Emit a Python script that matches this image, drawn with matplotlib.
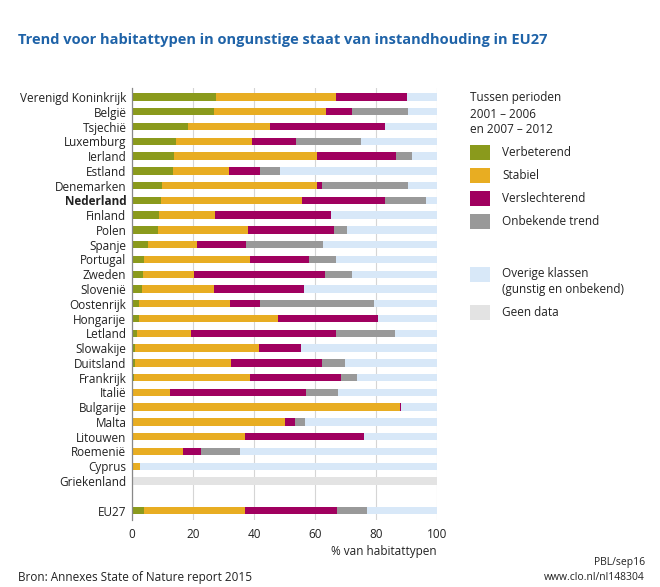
import matplotlib
matplotlib.use("Agg")
import matplotlib.pyplot as plt
from matplotlib.patches import Rectangle
import numpy as np

plt.rcParams['font.family'] = ['Open Sans', 'DejaVu Sans']

countries = ["Verenigd Koninkrijk", "België", "Tsjechië", "Luxemburg", "Ierland", "Estland",
             "Denemarken", "Nederland", "Finland", "Polen", "Spanje", "Portugal", "Zweden",
             "Slovenië", "Oostenrijk", "Hongarije", "Letland", "Slowakije", "Duitsland",
             "Frankrijk", "Italië", "Bulgarije", "Malta", "Litouwen", "Roemenië", "Cyprus",
             "Griekenland", "EU27"]

# Percentages per trend class
verbeterend = [27.6, 26.9, 18.3, 14.3, 13.9, 13.3, 9.8, 9.6, 8.7, 8.6, 5.4, 3.8, 3.7,
               3.4, 2.4, 2.2, 1.7, 1.0, 1.0, 0.7, 0.0, 0.0, 0.0, 0.0, 0.0, 0.0, 0.0, 3.9]
stabiel = [39.1, 36.7, 26.9, 25.0, 46.6, 18.4, 50.7, 46.2, 18.5, 29.4, 16.0, 34.7, 16.6,
           23.6, 29.8, 45.7, 17.7, 40.6, 31.3, 38.1, 12.3, 87.7, 50.1, 37.1, 16.7, 2.5, 0.0, 33.2]
verslechterend = [23.2, 8.6, 37.8, 14.4, 26.0, 10.1, 1.7, 27.1, 38.0, 28.3, 15.9, 19.3, 42.9,
                  29.2, 9.7, 32.6, 47.4, 13.9, 29.8, 29.6, 44.6, 0.4, 3.3, 38.9, 6.0, 0.0, 0.0, 30.1]
onbekend = [0.0, 18.3, 0.0, 21.3, 5.1, 6.6, 28.1, 13.3, 0.0, 4.2, 25.1, 8.9, 9.0,
            0.0, 37.2, 0.0, 19.3, 0.0, 7.8, 5.4, 10.6, 0.0, 3.3, 0.0, 12.6, 0.0, 0.0, 9.9]
geen_data = [False] * 26 + [True, False]

xticks = [0, 20, 40, 60, 80, 100]

c_verb = "#8a9a1c"
c_stab = "#e8ad22"
c_versl = "#a0005f"
c_onb = "#999999"
c_rest = "#d8e8f8"
c_geen = "#e3e3e3"

fig = plt.figure(figsize=(6.6, 5.87), dpi=100)
ax = fig.add_axes([0.2, 1 - 520 / 587, 0.4627, (520 - 88) / 587])

ypos = np.array(list(range(27)) + [28])
h = 0.5
left = np.zeros(len(countries))
for vals, col in [(verbeterend, c_verb), (stabiel, c_stab), (verslechterend, c_versl), (onbekend, c_onb)]:
    v = np.array(vals)
    ax.barh(ypos, v, left=left, height=h, color=col, zorder=2, linewidth=0)
    left = left + v
rest = 100 - left
rest_colors = [c_geen if g else c_rest for g in geen_data]
ax.barh(ypos, rest, left=left, height=h, color=rest_colors, zorder=2, linewidth=0)

ax.set_xlim(0, 100)
ax.set_ylim(28.64, -0.61)
ax.set_xticks(xticks)
ax.set_xticklabels([str(t) for t in xticks], fontsize=8.5, color="#222222")
ax.set_yticks(ypos)
ax.set_yticklabels(countries, fontsize=8.5, color="#222222")
for lbl in ax.get_yticklabels():
    if lbl.get_text() == "Nederland":
        lbl.set_fontweight("bold")
ax.tick_params(axis="both", length=0, pad=4)
ax.tick_params(axis="x", pad=6)
ax.grid(axis="x", color="#d5d5d5", linewidth=0.8, zorder=0)
for s in ["top", "right", "bottom"]:
    ax.spines[s].set_visible(False)
ax.spines["left"].set_color("#888888")
ax.spines["left"].set_linewidth(0.9)

fig.text(18 / 660, 1 - 40 / 587, "Trend voor habitattypen in ongunstige staat van instandhouding in EU27",
         fontsize=10.5, fontweight="bold", color="#1f63a8", va="center", ha="left")

fig.text(437 / 660, 1 - 552 / 587, "% van habitattypen", fontsize=8.5, color="#222222",
         ha="right", va="center")
fig.text(18 / 660, 1 - 577 / 587, "Bron: Annexes State of Nature report 2015", fontsize=8.5,
         color="#222222", ha="left", va="center")
fig.text(645 / 660, 1 - 563 / 587, "PBL/sep16", fontsize=7.5, color="#222222", ha="right", va="center")
fig.text(645 / 660, 1 - 578 / 587, "www.clo.nl/nl148304", fontsize=7.5, color="#222222",
         ha="right", va="center")

# Legend
for txt, yy in [("Tussen perioden", 98), ("2001 – 2006", 114), ("en 2007 – 2012", 130)]:
    fig.text(470 / 660, 1 - yy / 587, txt, fontsize=8.5, color="#222222", ha="left", va="center")

legend_items = [("Verbeterend", c_verb, 152.5), ("Stabiel", c_stab, 175.5),
                ("Verslechterend", c_versl, 198.5), ("Onbekende trend", c_onb, 221.5),
                ("Overige klassen\n(gunstig en onbekend)", c_rest, 274), ("Geen data", c_geen, 312.5)]
for label, col, yc in legend_items:
    fig.patches.append(Rectangle((470 / 660, 1 - (yc + 7.5) / 587), 20 / 660, 15 / 587,
                                 transform=fig.transFigure, color=col, linewidth=0))
    if "\n" in label:
        l1, l2 = label.split("\n")
        fig.text(502 / 660, 1 - yc / 587, l1, fontsize=8.5, color="#222222", ha="left", va="center")
        fig.text(502 / 660, 1 - (yc + 15.5) / 587, l2, fontsize=8.5, color="#222222", ha="left", va="center")
    else:
        fig.text(502 / 660, 1 - yc / 587, label, fontsize=8.5, color="#222222", ha="left", va="center")

fig.savefig("out.png", dpi=100)
